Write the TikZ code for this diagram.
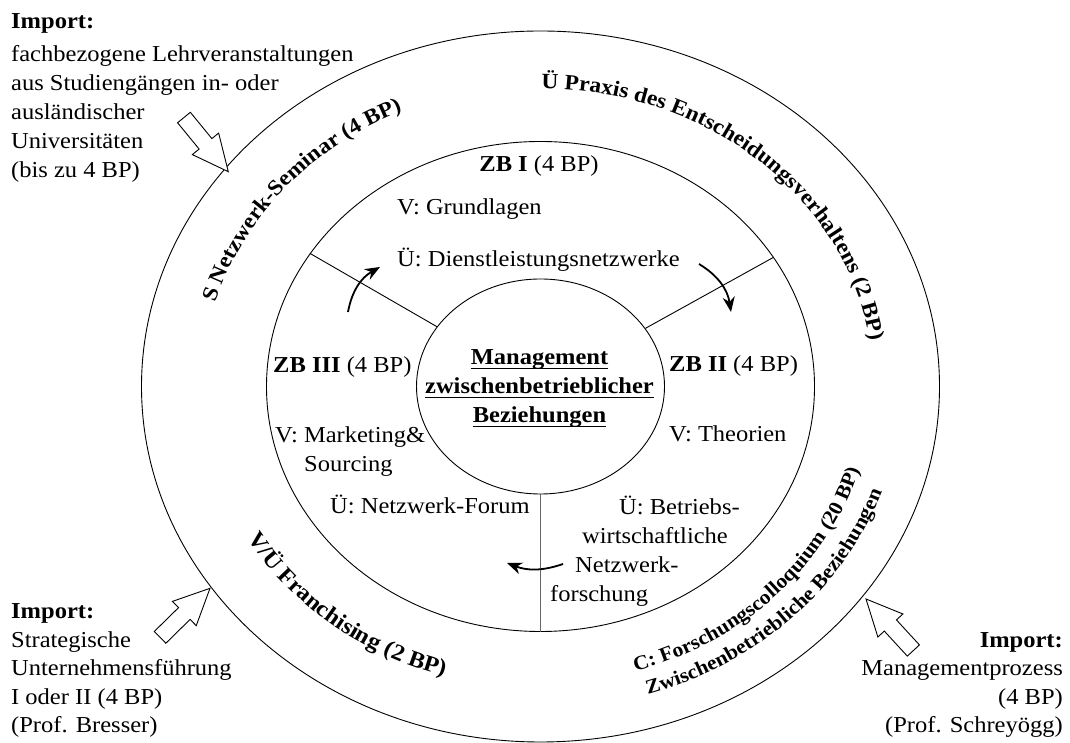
\documentclass[tikz,border=0pt]{standalone}
\usepackage{fontspec}
\setmainfont{Liberation Serif}[FakeStretch=1.075]
\usetikzlibrary{shapes.geometric,decorations.text,arrows.meta,calc}
\newcommand\myfs{\fontsize{22.8}{29}\selectfont}
\newcommand\ringfont{\fontsize{21.8}{25}\selectfont\bfseries}
\newcommand\ringfontb{\fontsize{22.8}{25}\selectfont\bfseries}
\newcommand\ringsmall{\fontsize{20.2}{22}\selectfont\bfseries}
\begin{document}
\begin{tikzpicture}[x=1pt,y=1pt,
  ring/.style={draw, ellipse, inner sep=0pt, line width=0.9pt},
  txt/.style={anchor=base west, inner sep=0pt, font=\myfs},
  txtb/.style={txt, font=\myfs\bfseries},
  sepline/.style={line width=0.9pt},
  rot/.style={line width=1.8pt, -{Stealth[length=15pt,width=12pt]}},
  imp/.pic={\draw[fill=white, line width=0.9pt] (0,0) -- (-36,17) -- (-36,8.25) -- (-70,8.25) -- (-70,-8.25) -- (-36,-8.25) -- (-36,-17) -- cycle;},
  ringtext/.style={decorate, decoration={text along path, text align=center, text={#1}}}
  ]
\useasboundingbox (0,0) rectangle (1070,743);
\coordinate (C) at (540.5,356.5);
% rings
\node[ring, minimum width=798pt, minimum height=711pt] (outer) at (C) {};
\node[ring, minimum width=548pt, minimum height=490pt] (middle) at (C) {};
\node[ring, minimum width=248pt, minimum height=215pt] (inner) at (C) {};
\draw[sepline] (inner.150.5) -- (middle.150.5);
\draw[sepline] (inner.29.3) -- (middle.29.3);
\draw[sepline, black!60] (inner.270) -- (middle.270);

% ring texts
\path[ringtext={|\ringfont|S Netzwerk-Seminar (4 BP)}]
  ($(C)+(174:338 and 302)$) arc[start angle=174, end angle=105, x radius=338, y radius=302];
\path[ringtext={|\ringfont|Ü Praxis des Entscheidungsverhaltens (2 BP)}]
  ($(C)+(104:334 and 298)$) arc[start angle=104, end angle=-7, x radius=334, y radius=298];
\path[ringtext={|\ringfontb|V/Ü Franchising (2 BP)}]
  ($(C)+(192:339 and 302)$) arc[start angle=192, end angle=270, x radius=339, y radius=302];
\path[ringtext={|\ringsmall|C: Forschungscolloquium (20 BP)}]
  ($(C)+(272:332 and 297)$) arc[start angle=272, end angle=360, x radius=332, y radius=297];
\path[ringtext={|\ringsmall|Zwischenbetriebliche Beziehungen}]
  ($(C)+(272:361 and 323)$) arc[start angle=272, end angle=358, x radius=361, y radius=323];

% center
\node[txtb, anchor=base] (m1) at (539.5,378) {Management};
\node[txtb, anchor=base] (m2) at (539.5,349) {zwischenbetrieblicher};
\node[txtb, anchor=base] (m3) at (539.5,320) {Beziehungen};
\foreach \n in {m1,m2,m3}{\draw[line width=1.3pt] ([yshift=-3.5pt]\n.base west) -- ([yshift=-3.5pt]\n.base east);}

% ZB I
\node[txt, anchor=base] (zb1) at (539,571) {\textbf{ZB I} (4 BP)};
\node[txt] (zb1v) at (397,528) {V: Grundlagen};
\node[txt] (zb1u) at (397,476) {Ü: Dienstleistungsnetzwerke};
% ZB III
\node[txt] (zb3) at (273,370) {\textbf{ZB III} (4 BP)};
\node[txt] (zb3v) at (275,300) {V: Marketing\&};
\node[txt] (zb3s) at (304,271) {Sourcing};
\node[txt] (zb3u) at (330,229) {Ü: Netzwerk-Forum};
% ZB II
\node[txt] (zb2) at (669,371) {\textbf{ZB II} (4 BP)};
\node[txt] (zb2v) at (669,301) {V: Theorien};
\node[txt] (zb2a) at (619,228) {Ü: Betriebs-};
\node[txt] (zb2b) at (582,199) {wirtschaftliche};
\node[txt] (zb2c) at (575,170) {Netzwerk-};
\node[txt] (zb2d) at (550,141) {forschung};

% rotation arrows
\coordinate (r1s) at (348,431); \coordinate (r1e) at (380,476);
\coordinate (r2s) at (699,479); \coordinate (r2e) at (731,431);
\coordinate (r3s) at (563,179); \coordinate (r3e) at (507,180);
\draw[rot] (r1s) to[bend left=25] (r1e);
\draw[rot] (r2s) to[bend left=25] (r2e);
\draw[rot] (r3s) to[bend left=20] (r3e);

% import texts
\node[txtb] (t0) at (11,714) {Import:};
\node[txt] (t1) at (11,681) {fachbezogene Lehrveranstaltungen};
\node[txt] (t2) at (11,652) {aus Studiengängen in- oder};
\node[txt] (t3) at (11,623) {ausländischer};
\node[txt] (t4) at (11,594) {Universitäten};
\node[txt] (t5) at (11,565) {(bis zu 4 BP)};

\node[txtb] (l0) at (11,124) {Import:};
\node[txt] (l1) at (11,95.5) {Strategische};
\node[txt] (l2) at (11,67) {Unternehmensführung};
\node[txt] (l3) at (11,38.5) {I oder II (4 BP)};
\node[txt] (l4) at (11,10) {(Prof. Bresser)};

\node[txtb, anchor=base east] (r0) at (1063,95.5) {Import:};
\node[txt, anchor=base east] (rr1) at (1063,67) {Managementprozess};
\node[txt, anchor=base east] (rr2) at (1063,38.5) {(4 BP)};
\node[txt, anchor=base east] (rr3) at (1063,10) {(Prof. Schreyögg)};

% import arrows
\pic[rotate=-50.7] at (228.3,571.3) {imp};
\pic[rotate=44.5] at (210,154.7) {imp};
\pic[rotate=132.6] at (866,144) {imp};
\end{tikzpicture}
\end{document}
